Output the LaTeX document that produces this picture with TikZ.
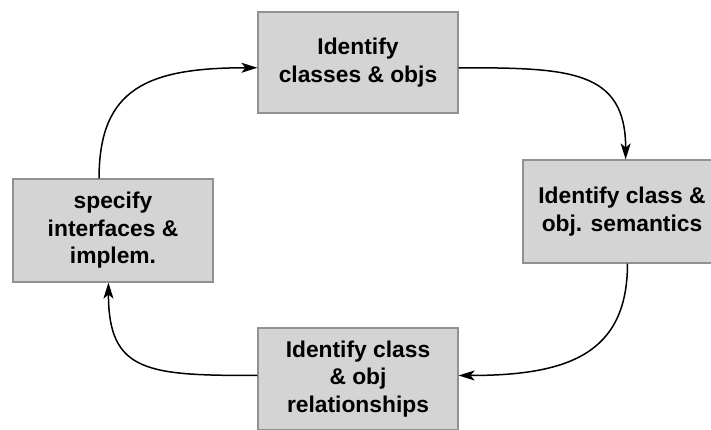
\documentclass[tikz,border=0pt]{standalone}
\usepackage{fontspec}
\setmainfont{Liberation Sans}
\usetikzlibrary{arrows.meta}
\begin{document}
\begin{tikzpicture}[x=1pt,y=1pt]
	\tikzstyle{box}=[rectangle,draw={rgb,255:red,145;green,145;blue,145},fill={rgb,255:red,212;green,212;blue,212},line width=1.2pt,minimum width=200pt,minimum height=101pt,inner sep=0pt,align=center,font=\bfseries\fontsize{22.8}{27.5}\selectfont]
	\tikzstyle{flow}=[line width=1.5pt,-{Stealth[length=16pt,width=10pt,inset=4pt]}]
	\useasboundingbox (0,0) rectangle (711,429);
	\clip (0,0) rectangle (711,429);
	\node (classes) at (358,366.5) [box] {Identify\\classes \& objs};
	\node (semantics) at (622,217.5) [box,minimum width=198pt,minimum height=103pt] {Identify class \&\\obj. semantics};
	\node (relations) at (358,50) [box,minimum height=102pt] {Identify class\\\& obj\\relationships};
	\node (interfaces) at (113,198.5) [box,minimum height=103pt] {specify\\interfaces \&\\implem.};
	\draw [flow] (interfaces.105) to [out=90,in=180,out distance=90pt,in distance=110pt] (classes.183);
	\draw [flow] (classes.357)    to [out=0,in=90,out distance=110pt,in distance=90pt]   (semantics.86);
	\draw [flow] (semantics.276)  to [out=270,in=0,out distance=90pt,in distance=110pt]  (relations.2);
	\draw [flow] (relations.178)  to [out=180,in=270,out distance=110pt,in distance=90pt] (interfaces.265);
\end{tikzpicture}
\end{document}
